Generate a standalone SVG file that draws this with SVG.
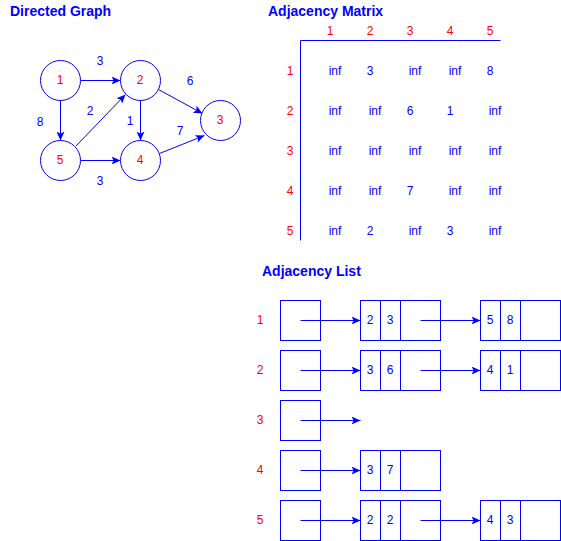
<svg xmlns="http://www.w3.org/2000/svg" width="561" height="541" viewBox="0 0 561 541">
  <defs>
    <marker id="arrow" viewBox="0 0 9 8" refX="9" refY="4" markerWidth="9" markerHeight="8" markerUnits="userSpaceOnUse" orient="auto">
      <path d="M0,0 L9,4 L0,8 L2.2,4 Z" fill="#0000FF"/>
    </marker>
  </defs>
  <style>
    text { font-family: "Liberation Sans", Arial, Helvetica, sans-serif; font-size: 12px; text-anchor: middle; }
    .title { font-size: 14px; font-weight: bold; fill: #0000FF; text-anchor: start; }
    .blue { fill: #0000FF; }
    .red { fill: #FF0000; }
    .node circle { fill: #FFFFFF; stroke: #0000FF; stroke-width: 1; }
    .edge { stroke: #0000FF; stroke-width: 1; fill: none; marker-end: url(#arrow); }
    .axis { stroke: #0000FF; stroke-width: 1; fill: none; }
    .cell { fill: #FFFFFF; stroke: #0000FF; stroke-width: 1; }
  </style>
  <rect width="561" height="541" fill="#FFFFFF"/>

  <!-- Directed graph -->
  <text class="title" x="10" y="16">Directed Graph</text>
  <g transform="translate(0.5,0.5)">
    <g id="graph-edges">
      <line class="edge" x1="80" y1="80" x2="120" y2="80"/>
      <line class="edge" x1="60" y1="100" x2="60" y2="140"/>
      <line class="edge" x1="140" y1="100" x2="140" y2="140"/>
      <line class="edge" x1="80" y1="160" x2="120" y2="160"/>
      <line class="edge" x1="75.5" y1="145.5" x2="125" y2="94"/>
      <line class="edge" x1="158" y1="89" x2="202" y2="113"/>
      <line class="edge" x1="159" y1="153" x2="204" y2="135"/>
    </g>
    <g id="g-node-1" class="node"><circle cx="60" cy="80" r="20"/></g>
    <g id="g-node-2" class="node"><circle cx="140" cy="80" r="20"/></g>
    <g id="g-node-3" class="node"><circle cx="220" cy="120" r="20"/></g>
    <g id="g-node-4" class="node"><circle cx="140" cy="160" r="20"/></g>
    <g id="g-node-5" class="node"><circle cx="60" cy="160" r="20"/></g>
  </g>
  <g id="graph-edge-labels" class="blue">
    <text x="100" y="65">3</text>
    <text x="190" y="85">6</text>
    <text x="40" y="126">8</text>
    <text x="90" y="115">2</text>
    <text x="130" y="125">1</text>
    <text x="180" y="135">7</text>
    <text x="100" y="185">3</text>
  </g>
  <g id="graph-node-labels" class="red">
    <text x="60" y="84.3">1</text>
    <text x="140" y="84.3">2</text>
    <text x="220" y="124.3">3</text>
    <text x="140" y="164.3">4</text>
    <text x="60" y="164.3">5</text>
  </g>

  <!-- Adjacency matrix -->
  <text class="title" x="268" y="16">Adjacency Matrix</text>
  <g id="matrix">
    <path class="axis" d="M500.5,40.5 H300.5 V240.5"/>
    <g class="red">
      <text x="330" y="35.3">1</text>
      <text x="370" y="35.3">2</text>
      <text x="410" y="35.3">3</text>
      <text x="450" y="35.3">4</text>
      <text x="490" y="35.3">5</text>
      <text x="290" y="75.3">1</text>
      <text x="290" y="115.3">2</text>
      <text x="290" y="155.3">3</text>
      <text x="290" y="195.3">4</text>
      <text x="290" y="235.3">5</text>
    </g>
    <g class="blue">
      <text x="335" y="75.3">inf</text>
      <text x="370" y="75.3">3</text>
      <text x="415" y="75.3">inf</text>
      <text x="455" y="75.3">inf</text>
      <text x="490" y="75.3">8</text>

      <text x="335" y="115.3">inf</text>
      <text x="375" y="115.3">inf</text>
      <text x="410" y="115.3">6</text>
      <text x="450" y="115.3">1</text>
      <text x="495" y="115.3">inf</text>

      <text x="335" y="155.3">inf</text>
      <text x="375" y="155.3">inf</text>
      <text x="415" y="155.3">inf</text>
      <text x="455" y="155.3">inf</text>
      <text x="495" y="155.3">inf</text>

      <text x="335" y="195.3">inf</text>
      <text x="375" y="195.3">inf</text>
      <text x="410" y="195.3">7</text>
      <text x="455" y="195.3">inf</text>
      <text x="495" y="195.3">inf</text>

      <text x="335" y="235.3">inf</text>
      <text x="370" y="235.3">2</text>
      <text x="415" y="235.3">inf</text>
      <text x="450" y="235.3">3</text>
      <text x="495" y="235.3">inf</text>
    </g>
  </g>

  <!-- Adjacency list -->
  <text class="title" x="262" y="276">Adjacency List</text>
  <g id="list-labels" class="red">
    <text x="260" y="324.3">1</text>
    <text x="260" y="374.3">2</text>
    <text x="260" y="424.3">3</text>
    <text x="260" y="474.3">4</text>
    <text x="260" y="524.3">5</text>
  </g>

  <g transform="translate(0.5,0.5)">
    <g id="head-1"><rect class="cell" x="280" y="300" width="40" height="40"/></g>
    <g id="head-2"><rect class="cell" x="280" y="350" width="40" height="40"/></g>
    <g id="head-3"><rect class="cell" x="280" y="400" width="40" height="40"/></g>
    <g id="head-4"><rect class="cell" x="280" y="450" width="40" height="40"/></g>
    <g id="head-5"><rect class="cell" x="280" y="500" width="40" height="40"/></g>

    <g id="item-1-2"><rect class="cell" x="360" y="300" width="80" height="40"/><path class="axis" d="M380,300 V340 M400,300 V340"/></g>
    <g id="item-1-5"><rect class="cell" x="480" y="300" width="80" height="40"/><path class="axis" d="M500,300 V340 M520,300 V340"/></g>
    <g id="item-2-3"><rect class="cell" x="360" y="350" width="80" height="40"/><path class="axis" d="M380,350 V390 M400,350 V390"/></g>
    <g id="item-2-4"><rect class="cell" x="480" y="350" width="80" height="40"/><path class="axis" d="M500,350 V390 M520,350 V390"/></g>
    <g id="item-4-3"><rect class="cell" x="360" y="450" width="80" height="40"/><path class="axis" d="M380,450 V490 M400,450 V490"/></g>
    <g id="item-5-2"><rect class="cell" x="360" y="500" width="80" height="40"/><path class="axis" d="M380,500 V540 M400,500 V540"/></g>
    <g id="item-5-4"><rect class="cell" x="480" y="500" width="80" height="40"/><path class="axis" d="M500,500 V540 M520,500 V540"/></g>

    <g id="list-links">
      <line class="edge" x1="300" y1="320" x2="360" y2="320"/>
      <line class="edge" x1="420" y1="320" x2="480" y2="320"/>
      <line class="edge" x1="300" y1="370" x2="360" y2="370"/>
      <line class="edge" x1="420" y1="370" x2="480" y2="370"/>
      <line class="edge" x1="300" y1="420" x2="360" y2="420"/>
      <line class="edge" x1="300" y1="470" x2="360" y2="470"/>
      <line class="edge" x1="300" y1="520" x2="360" y2="520"/>
      <line class="edge" x1="420" y1="520" x2="480" y2="520"/>
    </g>
  </g>

  <g id="list-values" class="blue">
    <text x="370" y="324.3">2</text><text x="390" y="324.3">3</text>
    <text x="490" y="324.3">5</text><text x="510" y="324.3">8</text>
    <text x="370" y="374.3">3</text><text x="390" y="374.3">6</text>
    <text x="490" y="374.3">4</text><text x="510" y="374.3">1</text>
    <text x="370" y="474.3">3</text><text x="390" y="474.3">7</text>
    <text x="370" y="524.3">2</text><text x="390" y="524.3">2</text>
    <text x="490" y="524.3">4</text><text x="510" y="524.3">3</text>
  </g>
</svg>
